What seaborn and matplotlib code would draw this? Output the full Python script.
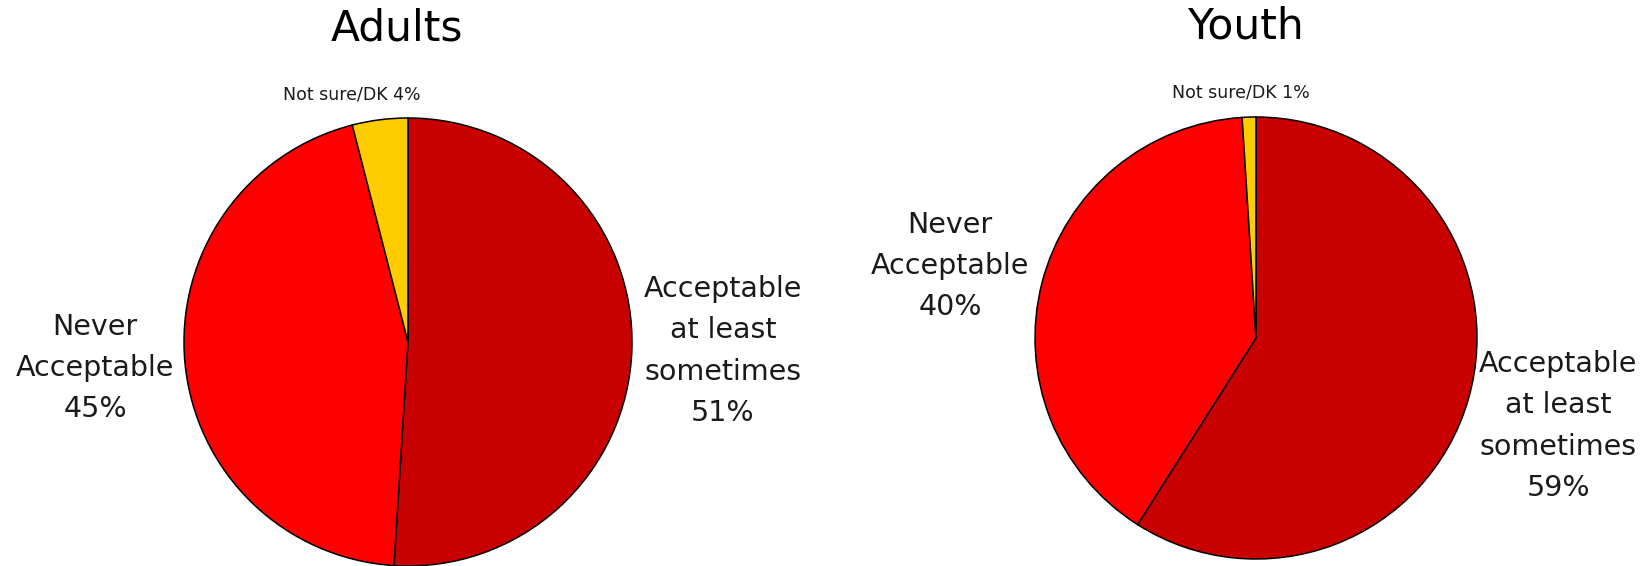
import matplotlib
matplotlib.use("Agg")
import matplotlib.pyplot as plt
import seaborn as sns

sns.set_theme(style="white")
plt.rcParams["font.family"] = ["DejaVu Sans"]

# Survey shares (percent), wedges drawn clockwise from 12 o'clock
categories = ["Acceptable at least sometimes", "Never Acceptable", "Not sure/DK"]
adults = [51, 45, 4]
youth = [59, 40, 1]
panel_titles = ["Adults", "Youth"]

colors = ["#C80000", "#FF0000", "#FFCC00"]

# Label text per wedge
label_text = {
    "Adults": ["Acceptable\nat least\nsometimes\n{}%", "Never\nAcceptable\n{}%", "Not sure/DK {}%"],
    "Youth": ["Acceptable\nat least\nsometimes\n{}%", "Never\nAcceptable\n{}%", "Not sure/DK {}%"],
}
# Label positions in pie-radius units
label_pos = {
    "Adults": [(1.406, -0.04), (-1.397, -0.116), (-0.25, 1.107)],
    "Youth": [(1.367, -0.398), (-1.385, 0.326), (-0.068, 1.113)],
}
title_pos = {"Adults": (-0.05, 1.40), "Youth": (-0.05, 1.41)}

W, H = 1648, 566
fig = plt.figure(figsize=(W / 100, H / 100), dpi=100)
fig.patch.set_facecolor("white")

# pie centre (px from left, px from top) and radius in px
geom = {"Adults": (408, 342, 224), "Youth": (1256, 338, 221)}
XL, YL = 1.9, 1.6

for name, vals in zip(panel_titles, [adults, youth]):
    cx, cy, r = geom[name]
    wpx, hpx = 2 * XL * r, 2 * YL * r
    left = (cx - wpx / 2) / W
    bottom = (H - cy - hpx / 2) / H
    ax = fig.add_axes([left, bottom, wpx / W, hpx / H])
    ax.pie(vals, colors=colors, startangle=90, counterclock=False,
           wedgeprops=dict(edgecolor="black", linewidth=1.1),
           radius=1.0, center=(0, 0), frame=False)
    ax.set_xlim(-XL, XL)
    ax.set_ylim(-YL, YL)
    ax.set_aspect("auto")
    ax.axis("off")
    for i, (txt, (x, y)) in enumerate(zip(label_text[name], label_pos[name])):
        small = i == 2
        ax.text(x, y, txt.format(vals[i]), ha="center", va="center",
                fontsize=12.5 if small else 20.5, color="#1a1a1a",
                linespacing=1.6)
    tx, ty = title_pos[name]
    ax.text(tx, ty, name, ha="center", va="center", fontsize=30.5, color="black")

fig.savefig("out.png", dpi=100, facecolor="white")
